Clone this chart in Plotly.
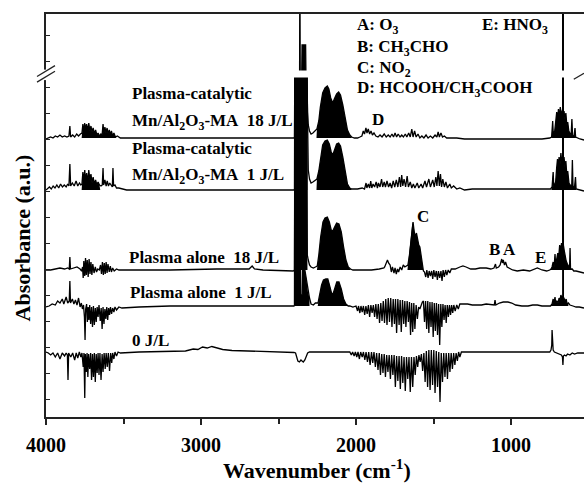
import plotly.graph_objects as go

# ---------------- data: (wavenumber cm-1, absorbance a.u. incl. stacking offset) -------------
pc18 = [(4000,2.78),(3985,2.79),(3970,2.80),(3955,2.79),(3940,2.81),(3925,2.80),(3910,2.82),(3895,2.80),(3880,2.81),(3865,2.80),(3852,2.81),(3846,2.91),(3841,2.80),(3828,2.82),(3815,2.80),(3802,2.83),(3790,2.81),(3778,2.83),
(3768,2.84),(3762,2.93),(3757,2.85),(3750,2.94),(3744,2.87),(3738,2.93),(3731,2.86),(3724,2.94),(3717,2.86),(3710,2.91),(3703,2.85),(3696,2.89),(3688,2.83),(3680,2.87),(3672,2.82),(3664,2.84),(3655,2.81),(3646,2.83),
(3638,2.82),(3632,2.93),(3627,2.84),(3620,2.90),(3613,2.84),(3606,2.89),(3599,2.83),(3592,2.87),(3585,2.82),(3578,2.86),(3570,2.81),(3562,2.84),(3552,2.80),(3540,2.81),(3520,2.79),(3480,2.79),
(3300,2.79),(3000,2.79),(2700,2.79),(2450,2.79),(2400,2.79),(2397,2.80),
(2395,3.43),(2364,3.43),(2362,4.6),(2360,3.43),(2350,3.43),(2348,3.72),(2343,3.72),(2341,3.52),(2338,3.52),(2336,3.72),(2325,3.72),(2323,3.43),(2316,3.43),
(2313,3.05),(2308,2.92),(2300,2.86),(2290,2.83),(2278,2.84),(2265,2.86),
(2252,2.88),(2240,2.96),(2230,3.10),(2215,3.24),(2200,3.29),(2185,3.31),(2175,3.28),(2163,3.19),(2150,3.14),(2140,3.18),(2125,3.23),(2112,3.25),(2100,3.22),(2085,3.12),(2070,2.98),(2055,2.87),(2040,2.82),(2028,2.80),
(2010,2.79),(1990,2.79),(1975,2.80),
(1962,2.81),(1953,2.86),(1945,2.83),(1936,2.89),(1929,2.84),(1921,2.88),(1912,2.83),(1903,2.86),(1894,2.82),(1884,2.84),(1872,2.81),
(1858,2.80),(1845,2.82),(1832,2.80),(1818,2.83),(1805,2.80),(1792,2.82),(1780,2.80),(1768,2.83),(1758,2.80),(1748,2.84),(1738,2.80),(1728,2.83),(1716,2.80),(1705,2.82),(1694,2.80),(1682,2.83),(1672,2.80),(1660,2.84),(1650,2.80),(1640,2.88),(1632,2.80),(1622,2.86),(1612,2.80),(1600,2.83),(1588,2.79),(1575,2.81),(1562,2.79),(1548,2.82),(1535,2.79),(1520,2.81),(1505,2.79),(1490,2.82),(1478,2.80),(1470,2.85),(1462,2.80),(1452,2.84),(1442,2.80),(1430,2.81),(1415,2.79),(1400,2.79),(1350,2.79),(1300,2.78),(1200,2.78),(1100,2.78),(1000,2.78),(900,2.78),(800,2.78),(750,2.79),
(738,2.80),(731,2.96),(727,2.82),(718,2.86),(710,2.98),(705,3.05),(700,2.95),(694,3.08),(688,3.00),(682,3.10),(676,3.02),(670,3.06),(666,3.08),(665,4.6),(664,3.02),(658,3.06),(652,2.98),(646,3.04),(640,2.92),(634,2.95),(627,2.86),(620,2.84),(612,2.82),(607,2.98),(603,2.82),(594,2.80),(587,2.89),(583,2.80),(572,2.79),(555,2.78),(529,2.77)]

pc1 = [(4000,2.27),(3990,2.28),(3978,2.30),(3966,2.28),(3954,2.31),(3942,2.29),(3930,2.32),(3918,2.29),(3906,2.33),(3894,2.30),(3882,2.32),(3870,2.30),(3860,2.33),(3852,2.31),(3846,2.53),(3841,2.31),(3830,2.34),(3818,2.31),(3806,2.36),(3795,2.31),(3784,2.34),(3775,2.32),
(3768,2.33),(3762,2.45),(3757,2.34),(3750,2.47),(3745,2.36),(3738,2.44),(3731,2.35),(3724,2.47),(3717,2.37),(3710,2.43),(3703,2.34),(3696,2.40),(3688,2.33),(3680,2.37),(3672,2.32),(3664,2.35),(3655,2.32),(3645,2.31),
(3637,2.32),(3632,2.49),(3628,2.32),(3620,2.37),(3612,2.31),(3605,2.36),(3597,2.31),(3589,2.34),(3580,2.31),(3572,2.30),(3568,2.49),(3564,2.31),(3555,2.32),(3545,2.29),(3530,2.29),(3510,2.28),(3480,2.27),
(3300,2.27),(3000,2.27),(2700,2.27),(2450,2.27),(2400,2.27),(2397,2.28),
(2395,3.43),(2316,3.43),
(2313,2.60),(2308,2.47),(2300,2.38),(2290,2.34),(2278,2.35),(2265,2.37),
(2252,2.38),(2240,2.46),(2228,2.60),(2215,2.72),(2200,2.76),(2185,2.77),(2172,2.73),(2160,2.65),(2150,2.62),(2138,2.67),(2125,2.73),(2112,2.74),(2100,2.71),(2085,2.60),(2070,2.45),(2055,2.33),(2040,2.29),(2028,2.28),
(2010,2.28),(1990,2.28),(1960,2.29),(1945,2.28),(1935,2.34),(1930,2.29),(1920,2.33),(1912,2.29),(1905,2.36),(1898,2.29),(1890,2.33),(1880,2.30),(1870,2.35),(1862,2.29),(1855,2.34),(1845,2.30),(1835,2.38),(1828,2.30),(1818,2.35),(1810,2.30),(1800,2.36),(1790,2.30),(1780,2.34),(1770,2.29),(1760,2.36),(1750,2.30),(1740,2.37),(1730,2.30),(1720,2.40),(1712,2.30),(1705,2.42),(1698,2.31),(1690,2.38),(1680,2.30),(1670,2.41),(1662,2.30),(1650,2.35),(1640,2.29),(1630,2.33),(1620,2.29),(1605,2.34),(1595,2.29),(1580,2.33),(1570,2.29),(1555,2.36),(1545,2.30),(1530,2.38),(1520,2.30),(1505,2.37),(1495,2.30),(1485,2.40),(1478,2.31),(1470,2.46),(1462,2.31),(1455,2.43),(1448,2.30),(1440,2.38),(1430,2.30),(1420,2.35),(1410,2.29),(1395,2.33),(1385,2.29),(1370,2.31),(1350,2.28),(1330,2.29),(1300,2.27),(1250,2.28),(1200,2.28),(1100,2.28),(1000,2.28),(900,2.28),(800,2.28),(745,2.28),
(735,2.30),(728,2.45),(724,2.30),(712,2.35),(705,2.50),(700,2.58),(695,2.45),(690,2.60),(684,2.52),(678,2.64),(673,2.55),(668,2.60),(666,2.60),(665,4.6),(664,2.50),(658,2.60),(652,2.50),(646,2.56),(640,2.42),(634,2.46),(626,2.34),(618,2.32),(608,2.31),(604,2.57),(600,2.31),(590,2.30),(584,2.40),(580,2.28),(560,2.27),(529,2.26)]

pa18 = [(4000,1.47),(3970,1.47),(3940,1.48),(3910,1.49),(3880,1.48),(3860,1.49),(3850,1.48),(3846,1.60),(3842,1.48),(3820,1.49),(3800,1.50),(3780,1.48),(3770,1.46),
(3764,1.50),(3760,1.39),(3756,1.56),(3750,1.41),(3745,1.59),(3740,1.42),(3734,1.57),(3728,1.40),(3722,1.58),(3716,1.43),(3710,1.55),(3704,1.42),(3698,1.53),(3690,1.44),(3682,1.50),(3674,1.45),(3666,1.48),
(3656,1.47),(3648,1.52),(3642,1.43),(3636,1.55),(3630,1.42),(3624,1.54),(3618,1.43),(3612,1.55),(3606,1.44),(3600,1.53),(3592,1.45),(3585,1.51),(3578,1.45),(3570,1.49),(3560,1.46),(3545,1.48),(3530,1.47),
(3400,1.47),(3200,1.47),(2900,1.48),(2700,1.48),(2690,1.48),(2670,1.51),(2655,1.48),(2600,1.47),(2450,1.46),(2405,1.46),
(2397,1.47),(2394,3.43),(2318,3.43),(2314,1.62),(2308,1.57),(2300,1.52),(2290,1.50),(2275,1.49),(2262,1.50),
(2250,1.51),(2240,1.62),(2228,1.80),(2213,1.95),(2200,1.99),(2185,2.00),(2172,1.95),(2160,1.87),(2150,1.86),(2138,1.90),(2125,1.94),(2110,1.93),(2095,1.85),(2080,1.70),(2065,1.57),(2050,1.50),(2035,1.48),
(2020,1.47),(1960,1.47),(1900,1.47),(1850,1.48),(1820,1.49),
(1815,1.50),(1805,1.54),(1797,1.57),(1790,1.54),(1780,1.52),(1772,1.45),(1765,1.50),(1755,1.44),(1748,1.49),(1740,1.43),(1732,1.48),(1725,1.45),(1715,1.50),(1705,1.47),(1695,1.52),(1685,1.50),
(1665,1.52),(1655,1.62),(1645,1.80),(1638,1.92),(1632,1.95),(1625,1.86),(1618,1.80),(1610,1.84),(1603,1.78),(1595,1.72),(1588,1.70),(1580,1.60),(1572,1.50),(1565,1.46),
(1558,1.45),(1550,1.40),(1543,1.47),(1535,1.39),(1528,1.46),(1520,1.41),(1512,1.46),(1505,1.38),(1498,1.47),(1490,1.40),(1482,1.46),(1475,1.37),(1468,1.46),(1460,1.39),(1452,1.46),(1445,1.36),(1438,1.47),(1430,1.40),(1422,1.47),(1414,1.42),(1405,1.47),(1395,1.44),(1385,1.48),
(1360,1.48),(1330,1.50),(1310,1.51),(1290,1.50),(1260,1.48),(1230,1.48),(1200,1.49),(1160,1.49),(1130,1.48),
(1110,1.49),(1100,1.53),(1095,1.49),
(1080,1.50),(1070,1.52),(1060,1.58),(1055,1.54),(1050,1.57),(1042,1.52),(1035,1.55),(1025,1.50),(1010,1.49),
(990,1.47),(960,1.46),(920,1.47),(880,1.46),(850,1.48),(830,1.49),(800,1.47),(770,1.46),(750,1.47),
(742,1.48),(735,1.50),(728,1.55),(722,1.50),(716,1.63),(712,1.52),(705,1.58),(698,1.64),(692,1.60),(686,1.72),(680,1.66),(674,1.74),(668,1.70),(666,1.72),(665,4.6),(662,1.72),(656,1.66),(650,1.60),(644,1.56),(636,1.53),(628,1.50),(622,1.49),(619,1.69),(616,1.48),(605,1.48),(595,1.46),(580,1.46),(560,1.45),(529,1.44)]

pa1 = [(4000,1.10),(3980,1.11),(3960,1.13),(3940,1.12),(3925,1.16),(3910,1.14),(3895,1.18),(3885,1.13),(3870,1.20),(3860,1.14),(3850,1.16),(3846,1.36),(3842,1.14),(3830,1.18),(3820,1.13),(3810,1.17),(3800,1.12),(3790,1.19),(3780,1.10),(3772,1.14),
(3765,1.08),(3758,1.12),(3752,1.00),(3748,0.77),(3744,1.08),(3738,1.13),(3733,0.95),(3728,1.10),(3723,0.97),(3718,1.12),(3712,0.93),(3706,1.10),(3700,0.90),(3694,1.11),(3688,0.92),(3682,1.09),(3676,0.95),(3670,1.10),(3664,1.00),(3658,1.12),(3650,0.96),(3644,1.09),(3638,0.88),(3632,1.10),(3626,0.93),(3620,1.08),(3614,0.98),(3608,1.10),(3602,0.97),(3596,1.09),(3590,1.02),(3584,1.10),(3577,1.03),(3570,1.09),(3562,1.05),(3555,1.10),(3545,1.07),(3530,1.10),(3510,1.09),
(3400,1.10),(3200,1.11),(3000,1.11),(2800,1.11),(2600,1.11),(2420,1.11),(2400,1.11),
(2397,1.12),(2394,3.43),(2360,3.43),(2357,1.22),(2347,1.22),(2344,1.48),(2330,1.47),(2320,1.38),(2310,1.25),(2300,1.19),(2290,1.13),(2275,1.12),(2262,1.14),
(2245,1.14),(2235,1.22),(2222,1.32),(2210,1.37),(2195,1.38),(2182,1.38),(2170,1.32),(2158,1.24),(2148,1.23),(2136,1.30),(2124,1.35),(2110,1.35),(2095,1.28),(2080,1.18),(2065,1.13),(2050,1.11),
(2040,1.11),(2020,1.10),(2000,1.11),(1990,1.06),(1984,1.11),(1975,1.04),(1968,1.11),(1960,1.05),(1952,1.11),(1944,1.02),(1936,1.11),(1928,1.03),(1920,1.12),(1912,1.00),(1904,1.12),(1896,1.04),(1888,1.12),(1880,1.00),(1872,1.13),(1864,0.98),(1856,1.13),(1848,0.94),(1840,1.14),(1832,0.96),(1824,1.16),(1816,0.94),(1808,1.18),(1800,0.92),(1792,1.19),(1784,0.95),(1776,1.19),(1768,0.90),(1760,1.18),(1752,0.93),(1745,1.18),(1738,0.84),(1730,1.18),(1722,0.92),(1715,1.17),(1708,0.85),(1700,1.17),(1692,0.93),(1685,1.16),(1678,0.90),(1670,1.16),(1662,0.95),(1655,1.15),(1648,0.82),(1641,1.14),(1634,0.85),(1627,1.14),(1620,0.88),(1612,1.12),(1604,0.98),(1596,1.10),(1588,1.08),(1580,1.13),(1572,1.15),(1565,1.16),(1558,0.95),(1551,1.16),(1544,0.88),(1537,1.16),(1530,0.84),(1523,1.15),(1516,0.90),(1509,1.15),(1502,0.80),(1495,1.14),(1488,0.86),(1481,1.14),(1474,0.82),(1467,1.13),(1460,0.72),(1453,1.13),(1446,0.90),(1439,1.13),(1432,0.97),(1425,1.12),(1418,0.94),(1411,1.12),(1404,1.00),(1397,1.12),(1390,1.02),(1383,1.12),(1376,1.04),(1369,1.12),(1360,1.06),(1350,1.12),(1340,1.08),(1330,1.13),
(1310,1.13),(1280,1.13),(1250,1.12),(1220,1.12),(1190,1.12),(1160,1.13),(1130,1.12),(1108,1.12),(1103,1.17),(1098,1.12),(1075,1.14),(1050,1.15),(1020,1.15),(995,1.14),(970,1.12),(930,1.11),(890,1.11),(860,1.12),(830,1.12),(800,1.11),(760,1.11),
(745,1.11),(735,1.13),(728,1.18),(724,1.13),(716,1.20),(712,1.14),(704,1.16),(696,1.14),(690,1.19),(684,1.17),(678,1.22),(672,1.19),(668,1.21),(666,1.21),(665,4.6),(662,1.20),(656,1.18),(650,1.15),(644,1.18),(638,1.13),(630,1.14),(620,1.12),(600,1.11),(580,1.10),(560,1.10),(529,1.09)]

j0 = [(4000,0.65),(3985,0.64),(3970,0.62),(3955,0.64),(3940,0.60),(3925,0.64),(3910,0.58),(3895,0.64),(3880,0.61),(3870,0.64),(3862,0.62),(3858,0.37),(3854,0.64),(3840,0.60),(3828,0.64),(3815,0.57),(3805,0.64),(3795,0.59),(3785,0.65),(3775,0.60),(3768,0.64),
(3760,0.50),(3755,0.64),(3750,0.19),(3746,0.63),(3740,0.45),(3735,0.64),(3730,0.40),(3725,0.63),(3718,0.48),(3712,0.64),(3706,0.37),(3700,0.63),(3694,0.40),(3688,0.64),(3682,0.35),(3676,0.63),(3670,0.44),(3664,0.64),(3658,0.42),(3652,0.64),(3645,0.37),(3638,0.63),(3632,0.45),(3625,0.64),(3618,0.48),(3612,0.64),(3605,0.50),(3598,0.64),(3590,0.46),(3583,0.64),(3576,0.54),(3570,0.64),(3562,0.58),(3555,0.65),(3545,0.61),(3535,0.65),(3520,0.64),
(3400,0.65),(3200,0.655),(3100,0.66),(3050,0.68),(3020,0.675),(2990,0.70),(2960,0.69),(2930,0.705),(2900,0.69),(2860,0.675),(2800,0.665),(2700,0.66),(2600,0.655),(2500,0.655),(2420,0.65),(2400,0.645),
(2390,0.64),(2382,0.60),(2375,0.56),(2365,0.55),(2355,0.57),(2348,0.56),(2340,0.55),(2330,0.57),(2320,0.61),(2312,0.64),(2300,0.65),
(2200,0.65),(2100,0.65),(2050,0.645),
(2040,0.65),(2030,0.62),(2022,0.65),(2012,0.61),(2004,0.65),(1995,0.60),(1987,0.65),(1978,0.58),(1970,0.65),(1960,0.60),(1952,0.65),(1943,0.57),(1935,0.65),(1926,0.55),(1918,0.65),(1909,0.52),(1900,0.65),(1892,0.54),(1884,0.65),(1875,0.50),(1867,0.64),(1858,0.47),(1850,0.64),(1842,0.42),(1834,0.63),(1826,0.44),(1818,0.63),(1810,0.40),(1802,0.62),(1794,0.45),(1786,0.62),(1778,0.38),(1770,0.62),(1762,0.42),(1754,0.62),(1746,0.30),(1738,0.61),(1730,0.36),(1722,0.61),(1714,0.28),(1706,0.61),(1698,0.34),(1690,0.60),(1682,0.26),(1674,0.60),(1666,0.38),(1658,0.60),(1650,0.25),(1642,0.60),(1634,0.30),(1626,0.60),(1618,0.42),(1610,0.61),(1602,0.50),(1594,0.62),(1586,0.55),(1578,0.63),(1570,0.46),(1562,0.64),(1554,0.35),(1546,0.66),(1538,0.30),(1530,0.67),(1522,0.27),(1514,0.67),(1506,0.32),(1498,0.67),(1490,0.24),(1482,0.66),(1474,0.30),(1466,0.65),(1458,0.15),(1450,0.64),(1442,0.35),(1434,0.64),(1426,0.40),(1418,0.64),(1410,0.38),(1402,0.64),(1394,0.45),(1386,0.64),(1378,0.48),(1370,0.64),(1362,0.52),(1354,0.64),(1346,0.56),(1338,0.65),(1330,0.60),(1320,0.65),
(1300,0.65),(1200,0.65),(1100,0.65),(1000,0.65),(900,0.65),(800,0.65),(760,0.65),
(750,0.65),(742,0.67),(737,0.72),(735,0.87),(733,0.72),(728,0.67),(720,0.65),
(700,0.64),(685,0.63),(675,0.62),(668,0.60),(665,0.52),(662,0.61),(655,0.62),(645,0.61),(635,0.63),(620,0.62),(605,0.64),(590,0.63),(570,0.64),(550,0.64),(529,0.64)]

spectra = [pc18, pc1, pa18, pa1, j0]
baselines = [2.79, 2.27, 1.47, 1.11, 0.65]
# filled (unresolved) bands: (high wn, low wn)
filled = [[(3770, 3545), (2398, 2314), (2255, 2026), (740, 580)],
          [(3770, 3650), (2398, 2314), (2255, 2026), (740, 580)],
          [(3766, 3660), (2398, 2313), (2252, 2033), (1668, 1563), (745, 600)],
          [(2398, 2300), (2247, 2048), (745, 630)],
          []]

labels = ["Plasma-catalytic", "Mn/Al<sub>2</sub>O<sub>3</sub>-MA\u00a0\u00a018 J/L",
          "Plasma-catalytic", "Mn/Al<sub>2</sub>O<sub>3</sub>-MA\u00a0\u00a01 J/L",
          "Plasma alone\u00a0\u00a018 J/L", "Plasma alone\u00a0\u00a01 J/L", "0 J/L"]
label_pos = [(3458, 3.24), (3458, 2.955), (3458, 2.69), (3458, 2.41), (3477, 1.595), (3471, 1.25), (3458, 0.77)]
key_text = ["A: O<sub>3</sub>", "B: CH<sub>3</sub>CHO", "C: NO<sub>2</sub>", "D: HCOOH/CH<sub>3</sub>COOH", "E: HNO<sub>3</sub>"]
key_pos = [(2006, 3.915), (2006, 3.695), (2006, 3.48), (2006, 3.28), (1200, 3.915)]
peak_text = ["D", "C", "B", "A", "E"]
peak_pos = [(1910, 2.98), (1619, 2.01), (1155, 1.68), (1065, 1.68), (858, 1.60)]

FONT = "Liberation Serif"

fig = go.Figure()
for spec, base, bands in zip(spectra, baselines, filled):
    for hi, lo in bands:
        pts = [(w, a) for w, a in spec if lo <= w <= hi]
        xs = [hi] + [w for w, _ in pts] + [lo, hi]
        ys = [base] + [a for _, a in pts] + [base, base]
        fig.add_trace(go.Scatter(x=xs, y=ys, mode="lines", fill="toself",
                                 fillcolor="black", line=dict(width=0, color="black"),
                                 hoverinfo="skip", showlegend=False))
for spec in spectra:
    fig.add_trace(go.Scatter(x=[w for w, _ in spec], y=[a for _, a in spec], mode="lines",
                             line=dict(color="black", width=1.3), showlegend=False))

ann = []
for t, (x, y) in zip(labels + key_text + peak_text, label_pos + key_pos + peak_pos):
    ann.append(dict(x=x, y=y, text="<b>" + t + "</b>", xanchor="left", yanchor="middle",
                    xref="x", yref="y", showarrow=False,
                    font=dict(family=FONT, size=17, color="black")))

ann.append(dict(xref="paper", yref="paper", x=0.5046, y=-0.129, showarrow=False,
                text="<b>Wavenumber (cm<sup>-1</sup>)</b>", xanchor="center", yanchor="middle",
                font=dict(family=FONT, size=22, color="black")))
ann.append(dict(xref="paper", yref="paper", x=-0.0446, y=0.443, showarrow=False, textangle=-90,
                text="<b>Absorbance (a.u.)</b>", xanchor="center", yanchor="middle",
                font=dict(family=FONT, size=22, color="black")))

shapes = [
    # axis-break gaps
    dict(type="rect", xref="x", yref="y", x0=2405, x1=2305, y0=3.395, y1=3.465,
         fillcolor="white", line=dict(width=0), layer="above"),
    dict(type="rect", xref="x", yref="y", x0=690, x1=640, y0=3.395, y1=3.465,
         fillcolor="white", line=dict(width=0), layer="above"),
    dict(type="rect", xref="paper", yref="paper", x0=-0.006, x1=0.006, y0=0.836, y1=0.862,
         fillcolor="white", line=dict(width=0), layer="above"),
    dict(type="line", xref="paper", yref="paper", x0=-0.0167, y0=0.845, x1=0.0167, y1=0.872,
         line=dict(color="#222", width=1.3), layer="above"),
    dict(type="line", xref="paper", yref="paper", x0=-0.0167, y0=0.831, x1=0.0167, y1=0.858,
         line=dict(color="#222", width=1.3), layer="above"),
    dict(type="line", xref="paper", yref="paper", x0=0.981, y0=0.838, x1=1.0, y1=0.853,
         line=dict(color="#222", width=1.3), layer="above"),
]

fig.update_layout(
    width=584, height=485, margin=dict(l=46, r=0, t=14, b=68),
    plot_bgcolor="white", paper_bgcolor="white",
    annotations=ann, shapes=shapes, showlegend=False,
    xaxis=dict(range=[4000, 529], showgrid=False, zeroline=False,
               showline=True, linecolor="#222", linewidth=1.5, mirror=True,
               ticks="outside", ticklen=6, tickwidth=1.5, tickcolor="#222",
               ticklabelstandoff=3,
               tickvals=[4000, 3000, 2000, 1000], ticktext=["<b>4000</b>", "<b>3000</b>", "<b>2000</b>", "<b>1000</b>"],
               tickfont=dict(family=FONT, size=20, color="black"),
               minor=dict(tickvals=[3500, 2500, 1500], ticks="outside", ticklen=5,
                          tickwidth=1.5, tickcolor="#222")),
    yaxis=dict(range=[0, 4.03], showgrid=False, zeroline=False,
               showline=True, linecolor="#222", linewidth=1.5,
               ticks="inside", ticklen=4, tickwidth=1, tickcolor="#222",
               tick0=0.18, dtick=0.26, showticklabels=False),
)

fig.write_html("out.html")
